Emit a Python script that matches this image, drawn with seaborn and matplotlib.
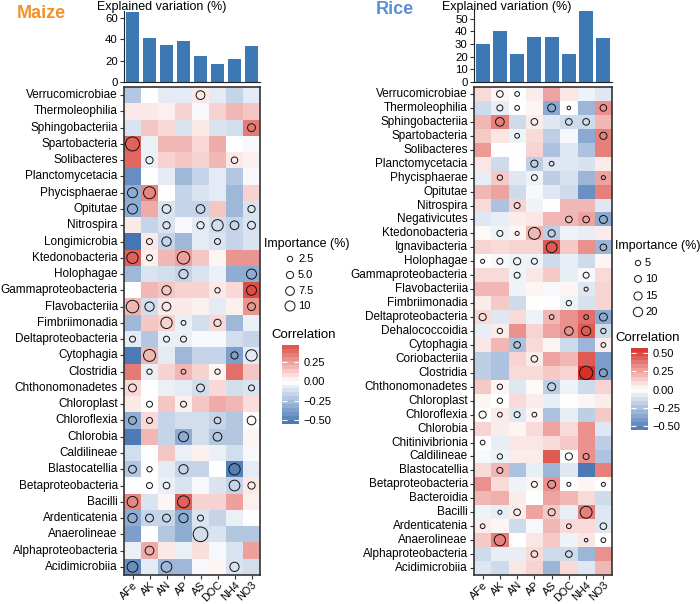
import numpy as np
import pandas as pd
import matplotlib
matplotlib.use("Agg")
import matplotlib.pyplot as plt
from matplotlib.colors import LinearSegmentedColormap, Normalize
from matplotlib.cm import ScalarMappable
from matplotlib.ticker import FuncFormatter
import seaborn as sns

plt.rcParams['font.family'] = ['Liberation Sans', 'DejaVu Sans']

# Data
factors = ["AFe", "AK", "AN", "AP", "AS", "DOC", "NH4", "NO3"]

maize_var = [66, 41, 35, 38, 24, 17, 22, 34]
rice_var = [30, 40, 22, 36, 36, 22, 56, 35]

maize_classes = ["Verrucomicrobiae", "Thermoleophilia", "Sphingobacteriia", "Spartobacteria",
                 "Solibacteres", "Planctomycetacia", "Phycisphaerae", "Opitutae", "Nitrospira",
                 "Longimicrobia", "Ktedonobacteria", "Holophagae", "Gammaproteobacteria",
                 "Flavobacteriia", "Fimbriimonadia", "Deltaproteobacteria", "Cytophagia",
                 "Clostridia", "Chthonomonadetes", "Chloroplast", "Chloroflexia", "Chlorobia",
                 "Caldilineae", "Blastocatellia", "Betaproteobacteria", "Bacilli",
                 "Ardenticatenia", "Anaerolineae", "Alphaproteobacteria", "Acidimicrobiia"]

maize_corr = [
    [-0.22, 0.00, -0.08, -0.08, 0.06, -0.08, -0.17, -0.08],
    [0.06, 0.06, 0.04, 0.12, -0.03, 0.12, 0.19, 0.15],
    [-0.11, 0.15, 0.10, -0.11, 0.06, -0.11, -0.13, 0.35],
    [0.42, -0.06, 0.19, 0.19, 0.10, 0.22, 0.00, -0.03],
    [0.40, -0.06, 0.12, 0.15, 0.12, 0.19, 0.06, 0.04],
    [-0.45, 0.00, -0.08, -0.28, -0.17, -0.08, -0.22, -0.03],
    [-0.33, 0.32, 0.00, -0.17, -0.11, -0.08, -0.28, 0.12],
    [-0.33, 0.22, -0.11, -0.17, -0.17, 0.15, -0.28, -0.11],
    [0.06, -0.17, -0.11, -0.03, -0.08, -0.13, -0.17, -0.11],
    [-0.55, 0.06, -0.17, -0.28, -0.08, -0.11, -0.17, -0.11],
    [0.42, 0.04, 0.19, 0.25, 0.15, 0.03, 0.28, 0.28],
    [-0.28, -0.11, -0.13, -0.17, -0.11, -0.06, -0.33, -0.33],
    [0.00, 0.19, 0.15, 0.12, 0.12, 0.06, 0.10, 0.47],
    [0.19, -0.13, 0.06, 0.06, 0.04, -0.08, 0.04, 0.28],
    [-0.28, 0.15, 0.12, -0.06, -0.13, 0.10, -0.28, -0.06],
    [-0.08, -0.22, -0.06, -0.06, -0.03, -0.03, -0.13, -0.17],
    [-0.52, 0.19, -0.08, -0.28, -0.17, -0.17, -0.38, -0.08],
    [0.35, -0.06, 0.12, 0.19, 0.12, 0.03, 0.38, 0.15],
    [0.10, 0.00, -0.06, -0.08, -0.13, 0.10, -0.13, -0.11],
    [0.06, 0.00, 0.15, 0.04, 0.15, 0.22, 0.19, 0.09],
    [-0.33, 0.10, -0.17, -0.13, -0.13, -0.17, -0.22, 0.00],
    [-0.52, 0.19, -0.17, -0.33, -0.13, -0.22, -0.22, 0.03],
    [-0.13, 0.00, 0.15, -0.06, 0.04, -0.06, -0.13, -0.03],
    [-0.22, 0.00, -0.08, -0.17, -0.17, 0.00, -0.50, -0.08],
    [0.00, 0.00, -0.06, -0.11, -0.03, -0.11, -0.17, 0.06],
    [0.32, -0.11, 0.03, 0.42, 0.12, 0.12, 0.25, 0.04],
    [-0.33, -0.17, -0.17, -0.33, -0.11, -0.17, -0.06, 0.00],
    [-0.38, 0.00, -0.22, -0.33, -0.13, -0.11, -0.22, -0.22],
    [-0.06, 0.22, 0.06, -0.06, 0.09, -0.03, -0.11, 0.25],
    [-0.45, -0.08, -0.28, -0.28, -0.03, 0.03, -0.11, -0.13],
]

# importance (%), 0 = no circle
maize_imp = [
    [0, 0, 0, 0, 7.5, 0, 0, 0],
    [0, 0, 0, 0, 0, 0, 0, 0],
    [0, 0, 0, 0, 0, 0, 0, 6],
    [20, 0, 0, 0, 0, 0, 0, 0],
    [0, 5, 0, 0, 0, 0, 4, 0],
    [0, 0, 0, 0, 0, 0, 0, 0],
    [10, 14.5, 0, 0, 0, 0, 0, 0],
    [10, 0, 7.5, 0, 7.5, 0, 0, 5],
    [0, 0, 5, 0, 5, 13, 7.5, 6],
    [0, 3.3, 8.5, 0, 0, 3.3, 0, 0],
    [13, 3.3, 0, 16, 0, 0, 0, 0],
    [0, 0, 0, 8.5, 0, 0, 0, 10],
    [0, 0, 8.5, 0, 0, 2.5, 0, 10],
    [16, 8.5, 7.5, 0, 0, 0, 0, 6],
    [0, 0, 13, 2, 0, 5, 0, 0],
    [3.3, 0, 3.3, 3.3, 0, 0, 0, 0],
    [0, 14.5, 0, 0, 0, 0, 5, 13],
    [0, 2.5, 0, 2, 0, 2.5, 0, 0],
    [6, 0, 0, 0, 6, 0, 0, 3.3],
    [0, 3.3, 0, 3.3, 0, 0, 0, 0],
    [6, 3.3, 0, 0, 0, 4.2, 0, 7.5],
    [0, 0, 0, 10, 0, 7.5, 0, 0],
    [0, 0, 0, 0, 0, 0, 0, 0],
    [6, 2.5, 0, 8.5, 0, 0, 13, 0],
    [0, 3.3, 4.2, 0, 0, 0, 11.5, 5],
    [11.5, 0, 0, 14.5, 0, 0, 0, 0],
    [8.5, 6, 6, 8.5, 3.3, 0, 0, 0],
    [0, 0, 0, 0, 22, 0, 0, 0],
    [0, 7.5, 0, 0, 0, 0, 0, 0],
    [11.5, 0, 11.5, 0, 0, 0, 8.5, 0],
]

rice_classes = ["Verrucomicrobiae", "Thermoleophilia", "Sphingobacteriia", "Spartobacteria",
                "Solibacteres", "Planctomycetacia", "Phycisphaerae", "Opitutae", "Nitrospira",
                "Negativicutes", "Ktedonobacteria", "Ignavibacteria", "Holophagae",
                "Gammaproteobacteria", "Flavobacteriia", "Fimbriimonadia", "Deltaproteobacteria",
                "Dehalococcoidia", "Cytophagia", "Coriobacteriia", "Clostridia",
                "Chthonomonadetes", "Chloroplast", "Chloroflexia", "Chlorobia",
                "Chitinivibrionia", "Caldilineae", "Blastocatellia", "Betaproteobacteria",
                "Bacteroidia", "Bacilli", "Ardenticatenia", "Anaerolineae",
                "Alphaproteobacteria", "Acidimicrobiia"]

rice_corr = [
    [0.10, 0.03, 0.00, 0.05, 0.25, 0.07, -0.05, -0.10],
    [-0.15, -0.07, 0.00, 0.03, -0.35, 0.00, -0.30, 0.30],
    [0.20, 0.35, -0.15, 0.05, -0.10, -0.15, -0.15, 0.20],
    [0.15, 0.07, -0.05, 0.10, -0.20, -0.03, -0.35, 0.35],
    [0.28, 0.00, 0.00, 0.12, -0.25, -0.10, -0.25, 0.35],
    [0.07, -0.15, 0.00, -0.20, -0.10, -0.10, -0.12, 0.05],
    [-0.07, 0.15, -0.10, -0.05, -0.20, -0.12, -0.30, 0.25],
    [0.20, 0.25, -0.15, -0.03, -0.10, -0.15, -0.45, 0.35],
    [0.10, -0.25, 0.12, -0.05, 0.00, 0.20, 0.20, -0.10],
    [-0.10, -0.07, 0.05, 0.07, 0.20, 0.20, 0.25, -0.35],
    [0.02, -0.05, 0.03, 0.20, -0.20, -0.05, -0.07, 0.05],
    [0.12, 0.10, 0.12, 0.12, 0.45, 0.15, 0.30, -0.30],
    [0.00, -0.03, -0.05, -0.05, -0.15, -0.07, -0.15, 0.03],
    [0.10, 0.10, -0.05, 0.07, 0.15, -0.07, -0.03, 0.10],
    [0.20, 0.20, -0.05, 0.03, -0.03, 0.03, -0.10, 0.12],
    [0.05, 0.15, -0.15, 0.00, 0.00, -0.05, -0.12, 0.12],
    [0.10, -0.10, 0.10, -0.05, 0.20, 0.30, 0.40, -0.35],
    [-0.07, 0.05, 0.30, 0.12, 0.25, 0.30, 0.45, -0.15],
    [0.07, 0.20, -0.25, 0.10, 0.03, -0.15, -0.30, 0.05],
    [-0.20, -0.25, 0.12, 0.05, 0.25, 0.20, 0.45, -0.40],
    [-0.20, -0.25, 0.10, 0.10, 0.15, 0.12, 0.57, -0.40],
    [0.15, 0.03, -0.10, 0.02, -0.20, -0.05, -0.15, 0.12],
    [0.03, 0.00, 0.10, 0.05, -0.07, 0.00, 0.03, 0.05],
    [0.00, 0.05, -0.10, 0.03, -0.25, -0.07, -0.20, 0.15],
    [0.12, 0.05, 0.03, 0.10, 0.25, 0.10, 0.30, -0.10],
    [0.00, -0.07, 0.07, 0.07, 0.10, 0.15, 0.30, -0.20],
    [-0.03, -0.05, 0.05, 0.05, 0.45, 0.00, 0.30, -0.25],
    [0.10, 0.20, -0.25, -0.07, -0.30, -0.10, -0.55, 0.35],
    [0.30, 0.10, -0.05, 0.03, 0.30, 0.00, 0.03, 0.00],
    [0.20, 0.22, 0.05, 0.00, 0.25, 0.20, 0.10, -0.15],
    [-0.05, -0.07, 0.05, 0.25, 0.15, -0.07, 0.35, -0.10],
    [0.05, 0.03, -0.15, -0.03, 0.20, 0.10, 0.10, -0.10],
    [0.15, 0.35, 0.00, 0.07, 0.15, -0.05, 0.07, 0.00],
    [-0.15, -0.07, -0.07, 0.10, -0.15, -0.15, -0.30, 0.30],
    [-0.10, -0.15, 0.07, 0.12, -0.30, 0.10, -0.10, 0.20],
]

rice_imp = [
    [0, 9, 3.5, 0, 0, 0, 0, 0],
    [0, 7, 3.5, 0, 14, 1, 0, 9],
    [0, 17, 0, 9, 0, 9, 9, 0],
    [0, 0, 3.5, 0, 0, 0, 0, 11],
    [0, 0, 0, 0, 0, 0, 0, 0],
    [0, 0, 0, 11, 3.5, 0, 0, 0],
    [0, 5, 0, 7, 0, 0, 0, 2],
    [0, 0, 0, 0, 0, 0, 0, 0],
    [0, 0, 7, 0, 0, 0, 0, 0],
    [0, 0, 0, 0, 0, 9, 9, 14],
    [0, 7, 2, 34, 11, 0, 0, 0],
    [0, 0, 0, 0, 27, 0, 0, 9],
    [2, 7, 11, 7, 0, 0, 0, 0],
    [0, 0, 7, 0, 0, 0, 7, 0],
    [0, 0, 0, 0, 0, 0, 2, 0],
    [0, 0, 0, 0, 0, 5, 0, 0],
    [11, 0, 0, 0, 3.5, 0, 3.5, 14],
    [0, 5, 0, 0, 0, 17, 20, 5],
    [0, 0, 9, 0, 0, 0, 0, 3.5],
    [0, 0, 0, 9, 0, 0, 0, 0],
    [0, 0, 0, 0, 0, 0, 43, 14],
    [0, 5, 0, 0, 14, 0, 0, 0],
    [0, 5, 0, 0, 0, 0, 0, 0],
    [11, 3.5, 7, 3.5, 0, 0, 0, 0],
    [0, 0, 0, 0, 0, 0, 0, 0],
    [3.5, 0, 0, 0, 0, 0, 0, 0],
    [0, 5, 0, 0, 0, 11, 7, 0],
    [0, 7, 0, 0, 0, 0, 0, 0],
    [0, 0, 0, 7, 14, 2, 0, 2],
    [0, 0, 0, 0, 0, 0, 0, 0],
    [0, 2, 9, 0, 11, 0, 34, 0],
    [3.5, 0, 0, 0, 0, 3.5, 0, 9],
    [0, 30, 0, 0, 0, 0, 1, 3.5],
    [0, 0, 0, 9, 0, 9, 0, 0],
    [0, 0, 0, 0, 0, 0, 0, 0],
]

maize_legend_vals = [2.5, 5.0, 7.5, 10]
maize_legend_labels = ["2.5", "5.0", "7.5", "10"]
rice_legend_vals = [5, 10, 15, 20]
rice_legend_labels = ["5", "10", "15", "20"]

# Figure setup (pixel layout helpers)
W, H = 700, 604
fig = plt.figure(figsize=(W / 100, H / 100), dpi=100)


def box(x0, y0, x1, y1):
    return [x0 / W, 1 - y1 / H, (x1 - x0) / W, (y1 - y0) / H]


cmap = LinearSegmentedColormap.from_list("corr", ["#4575B4", "#FFFFFF", "#D73027"])
bar_color = "#3B78B4"
fs = 8.5


def style_circles(coll):
    coll.set_facecolor("none")
    coll.set_edgecolor("#111111")
    coll.set_linewidth(0.7)


def panel(classes, corr, imp, var, x0, x1, bar_top, ymax, yticks, lim, size_norm, size_range):
    # bar chart of explained variation
    bax = fig.add_axes(box(x0, bar_top, x1, 82))
    sns.barplot(x=factors, y=var, color=bar_color, saturation=1, width=0.8, ax=bax)
    bax.set_xlim(-0.5, 7.5)
    bax.set_ylim(0, ymax)
    bax.set_yticks(yticks)
    bax.set_xticks([])
    bax.set_xlabel("")
    bax.set_ylabel("")
    for s in ["top", "right"]:
        bax.spines[s].set_visible(False)
    bax.spines["left"].set_color("#222222")
    bax.spines["bottom"].set_color("#222222")
    bax.tick_params(axis="y", labelsize=8.2, length=3, width=0.8, color="#333333", pad=1.5)

    # heatmap
    hax = fig.add_axes(box(x0, 87, x1, 575))
    df = pd.DataFrame(corr, index=classes, columns=factors)
    sns.heatmap(df, cmap=cmap, vmin=-lim, vmax=lim, cbar=False, ax=hax,
                xticklabels=True, yticklabels=True)
    pts = pd.DataFrame([(j + 0.5, i + 0.5, v)
                        for i, row in enumerate(imp) for j, v in enumerate(row) if v > 0],
                       columns=["x", "y", "imp"])
    sns.scatterplot(data=pts, x="x", y="y", size="imp", sizes=size_range,
                    size_norm=size_norm, legend=False, color="black", ax=hax)
    style_circles(hax.collections[-1])
    hax.set_xlim(0, len(factors))
    hax.set_ylim(len(classes), 0)
    hax.set_xlabel("")
    hax.set_ylabel("")
    for s in hax.spines.values():
        s.set_visible(True)
        s.set_color("#333333")
        s.set_linewidth(1.2)
    hax.tick_params(axis="both", labelsize=fs, length=3, width=0.8, color="#333333", pad=1.5)
    hax.tick_params(axis="x", labelsize=7.8, pad=0.5)
    hax.set_yticklabels(classes, rotation=0)
    hax.set_xticklabels(factors, rotation=45, ha="right", va="top", rotation_mode="anchor")


def colorbar(x0, y0, x1, y1, lo, hi, lim, ticks):
    cax = fig.add_axes(box(x0, y0, x1, y1))
    sm = ScalarMappable(norm=Normalize(-lim, lim), cmap=cmap)
    cb = fig.colorbar(sm, cax=cax, boundaries=np.linspace(lo, hi, 21), ticks=ticks)
    cb.outline.set_visible(False)
    cax.tick_params(axis="y", left=True, right=True, direction="in", length=3.5, width=0.8,
                    color="white", labelsize=8, pad=3)
    cax.yaxis.set_major_formatter(FuncFormatter(lambda v, p: f"{v:.2f}".replace("-", "\u2212")))


# circle area (pt^2) grows linearly with importance; ranges wide enough to avoid clipping
maize_norm, maize_sizes = (0, 22), (2.2, 111.3)
rice_norm, rice_sizes = (0, 45), (4.5, 95.9)

# Maize panel
panel(maize_classes, maize_corr, maize_imp, maize_var, 124, 260, 11, 66.5,
      [0, 20, 40, 60], 0.55, maize_norm, maize_sizes)
colorbar(282, 345, 299, 424, -0.55, 0.47, 0.55, [-0.5, -0.25, 0, 0.25])

# Rice panel
panel(rice_classes, rice_corr, rice_imp, rice_var, 474, 612, 9, 57.8,
      [0, 10, 20, 30, 40, 50], 0.57, rice_norm, rice_sizes)
colorbar(631, 348, 648, 430, -0.555, 0.57, 0.57, [-0.5, -0.25, 0, 0.25, 0.5])

# Overlay for titles and size legends (pixel coordinates)
ov = fig.add_axes([0, 0, 1, 1])
ov.set_xlim(0, W)
ov.set_ylim(H, 0)
ov.axis("off")

ov.text(17, 13, "Maize", fontsize=13, fontweight="bold", color="#F39028", ha="left", va="center")
ov.text(376, 10, "Rice", fontsize=13, fontweight="bold", color="#5B8ED8", ha="left", va="center")
ov.text(97, 7, "Explained variation (%)", fontsize=9, ha="left", va="center")
ov.text(442, 7, "Explained variation (%)", fontsize=9, ha="left", va="center")

ov.text(264, 244, "Importance (%)", fontsize=9, ha="left", va="center")
ov.text(271, 335, "Correlation", fontsize=9.5, ha="left", va="center")
ov.text(615, 246, "Importance (%)", fontsize=9, ha="left", va="center")
ov.text(615, 338, "Correlation", fontsize=9.5, ha="left", va="center")

maize_leg_y = [259, 275, 291, 306]
sns.scatterplot(x=[290] * 4, y=maize_leg_y, size=maize_legend_vals, sizes=maize_sizes,
                size_norm=maize_norm, legend=False, color="black", ax=ov)
style_circles(ov.collections[-1])
for yy, lab in zip(maize_leg_y, maize_legend_labels):
    ov.text(298, yy, lab, fontsize=8, ha="left", va="center")

rice_leg_y = [263, 279, 296, 312]
sns.scatterplot(x=[638] * 4, y=rice_leg_y, size=rice_legend_vals, sizes=rice_sizes,
                size_norm=rice_norm, legend=False, color="black", ax=ov)
style_circles(ov.collections[-1])
for yy, lab in zip(rice_leg_y, rice_legend_labels):
    ov.text(645, yy, lab, fontsize=8, ha="left", va="center")
ov.set_xlim(0, W)
ov.set_ylim(H, 0)
ov.set_xlabel("")
ov.set_ylabel("")

fig.savefig("out.png", dpi=100)
